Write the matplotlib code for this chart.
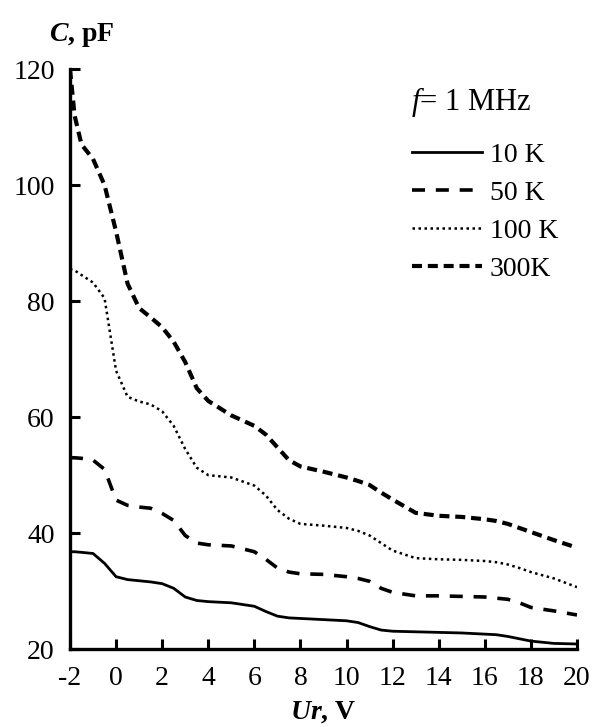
import numpy as np
import matplotlib
matplotlib.use("Agg")
import matplotlib.pyplot as plt

plt.rcParams['font.family'] = ['Liberation Serif', 'DejaVu Serif']
plt.rcParams['mathtext.fontset'] = 'custom'
plt.rcParams['mathtext.rm'] = 'Liberation Serif'
plt.rcParams['mathtext.it'] = 'Liberation Serif:italic'
plt.rcParams['mathtext.bf'] = 'Liberation Serif:bold:italic'
plt.rcParams['axes.unicode_minus'] = False

# reverse voltage, V
ur = [-2, -1.8, -1.5, -1, -0.5, 0, 0.5, 1, 1.5, 2, 2.5, 3, 3.5, 4, 5, 6, 6.5, 7, 7.5,
      8, 9, 10, 10.5, 11, 11.5, 12, 13, 14, 15, 16, 16.5, 17, 17.5, 18, 19, 20]

# capacitance, pF
c_10k = [36.8, 36.8, 36.7, 36.5, 34.8, 32.5, 32.0, 31.8, 31.6, 31.3, 30.5, 29.0, 28.4,
         28.2, 28.0, 27.4, 26.5, 25.7, 25.4, 25.3, 25.1, 24.9, 24.6, 23.9, 23.3, 23.1,
         23.0, 22.9, 22.8, 22.6, 22.5, 22.2, 21.8, 21.4, 21.0, 20.9]
c_50k = [53.0, 53.0, 52.9, 52.6, 51.0, 45.7, 44.8, 44.5, 44.3, 43.4, 42.2, 39.6, 38.3,
         38.0, 37.8, 36.8, 35.5, 34.0, 33.3, 33.0, 32.9, 32.5, 32.2, 31.7, 30.5, 29.8,
         29.2, 29.2, 29.1, 29.0, 28.8, 28.6, 28.0, 27.2, 26.6, 25.9]
c_100k = [85.5, 85.3, 84.5, 83.2, 80.5, 68.0, 63.5, 62.7, 62.2, 61.0, 58.5, 54.5, 51.3,
          50.0, 49.6, 48.2, 46.5, 44.0, 42.5, 41.6, 41.3, 40.9, 40.4, 39.6, 38.3, 37.0,
          35.7, 35.5, 35.4, 35.2, 35.0, 34.6, 34.0, 33.3, 32.2, 30.7]
c_300k = [120.0, 112.0, 107.0, 104.5, 100.0, 92.0, 83.0, 78.8, 77.2, 75.5, 73.0, 69.5,
          65.0, 62.8, 60.3, 58.5, 57.0, 54.8, 52.6, 51.5, 50.6, 49.6, 49.0, 48.3, 47.0,
          45.8, 43.5, 43.0, 42.8, 42.4, 42.1, 41.6, 40.9, 40.2, 38.8, 37.5]

labels = ['10 K', '50 K', '100 K', '300K']

fig = plt.figure(figsize=(5.93, 7.27), dpi=100)
ax = fig.add_axes([0.118, 0.107, 0.855, 0.798])

ax.plot(ur, c_10k, color='black', lw=2.0, linestyle='-', label=labels[0])
ax.plot(ur, c_50k, color='black', lw=2.6, linestyle=(0, (3.6, 3.0)), label=labels[1])
ax.plot(ur, c_100k, color='black', lw=1.8, linestyle=(0, (1, 1.4)), label=labels[2])
ax.plot(ur, c_300k, color='black', lw=3.0, linestyle=(0, (2.4, 1.4)), label=labels[3])

ax.set_xlim(-2, 20)
ax.set_ylim(20, 120)
ax.set_xticks(np.arange(-2, 21, 2))
ax.set_yticks(np.arange(20, 121, 20))

for side in ['top', 'right']:
    ax.spines[side].set_visible(False)
for side in ['left', 'bottom']:
    ax.spines[side].set_linewidth(2.4)
ax.tick_params(direction='in', length=7, width=2.2, labelsize=20)
ax.tick_params(axis='x', pad=12)
ax.tick_params(axis='y', pad=11)

fig.text(0.083, 0.952, r"$\mathbf{C}$, pF", fontsize=20, fontweight='bold',
         ha='left', va='center')
ax.set_xlabel(r"$\mathbf{Ur}$, V", fontsize=20, fontweight='bold', labelpad=6)

ax.text(0.673, 0.943, r"$f$= 1 MHz", transform=ax.transAxes, fontsize=22,
        ha='left', va='center')
ax.legend(loc='upper left', bbox_to_anchor=(0.675, 0.873), frameon=False,
          fontsize=20, handlelength=2.5, handletextpad=0.3, labelspacing=0.45,
          borderpad=0, borderaxespad=0)

plt.savefig('out.png', dpi=100)
